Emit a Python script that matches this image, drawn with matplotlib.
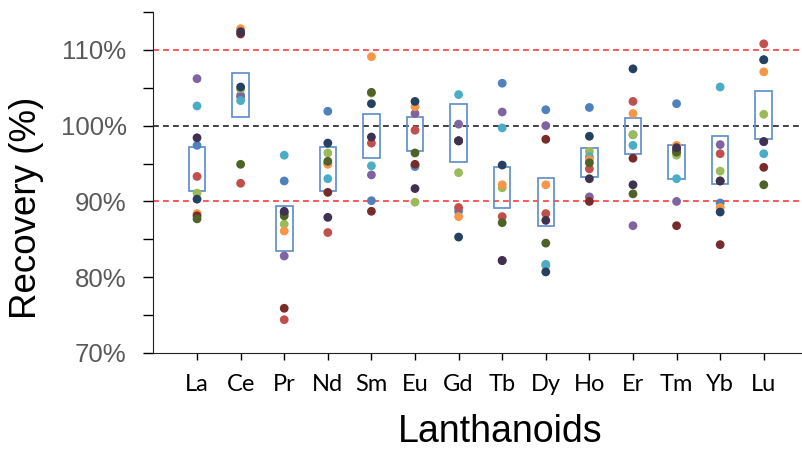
import matplotlib
matplotlib.use("Agg")
import matplotlib.pyplot as plt
from matplotlib.patches import Rectangle
from matplotlib.ticker import MultipleLocator, FuncFormatter

plt.rcParams["font.family"] = ["Liberation Sans", "DejaVu Sans"]

categories = ["La", "Ce", "Pr", "Nd", "Sm", "Eu", "Gd", "Tb", "Dy", "Ho", "Er", "Tm", "Yb", "Lu"]

s_blue       = [97.4, 104.0, 92.7, 101.9, 90.1, 94.6, 88.7, 105.6, 102.1, 102.4, 98.8, 102.9, 89.8, 108.7]
s_red        = [93.3, 92.4, 74.4, 85.9, 97.7, 99.4, 89.2, 88.0, 88.4, 94.3, 103.2, 96.5, 96.3, 110.8]
s_green      = [91.1, 104.8, 87.0, 96.4, 104.3, 89.9, 93.8, 91.8, 81.5, 96.6, 98.8, 96.1, 94.0, 101.5]
s_purple     = [106.2, 103.8, 82.8, 95.0, 93.5, 101.6, 100.2, 101.8, 100.0, 90.6, 86.8, 90.0, 97.5, 97.9]
s_cyan       = [102.6, 103.3, 96.1, 93.0, 94.7, 94.8, 104.1, 99.7, 81.7, 95.9, 97.4, 93.0, 105.1, 96.3]
s_orange     = [88.4, 112.8, 86.1, 94.9, 109.1, 102.5, 88.0, 92.2, 92.2, 95.5, 101.6, 97.4, 89.2, 107.1]
s_navy       = [90.3, 105.1, 88.5, 97.7, 102.9, 103.2, 85.3, 94.8, 80.7, 98.6, 107.5, 96.8, 88.6, 108.7]
s_darkred    = [88.1, 112.1, 75.9, 91.2, 88.7, 94.9, 98.0, 82.2, 98.2, 90.0, 95.7, 86.8, 84.3, 94.5]
s_darkolive  = [87.7, 94.9, 88.1, 95.3, 104.4, 96.4, 98.0, 87.2, 84.5, 95.1, 91.0, 96.5, 92.7, 92.2]
s_darkpurple = [98.4, 112.4, 88.7, 87.9, 98.5, 91.7, 98.0, 82.2, 87.5, 93.0, 92.2, 97.1, 92.7, 97.9]

box_low  = [91.4, 101.1, 83.5, 91.4, 95.7, 96.6, 95.2, 89.1, 86.8, 93.2, 96.3, 92.9, 92.3, 98.2]
box_high = [97.2, 107.0, 89.4, 97.2, 101.5, 101.2, 102.8, 94.5, 93.1, 97.1, 101.0, 97.5, 98.6, 104.6]

series = [
    (s_blue, "#4F81BD"), (s_red, "#C0504D"), (s_green, "#9BBB59"),
    (s_purple, "#8064A2"), (s_cyan, "#4BACC6"), (s_orange, "#F79646"),
    (s_navy, "#254061"), (s_darkred, "#772C2A"), (s_darkolive, "#4F6228"),
    (s_darkpurple, "#3F3151"),
]

fig = plt.figure(figsize=(8.03, 4.51), dpi=100)
ax = fig.add_axes([153/803, 1 - 353/451, 1 - 153/803, (353 - 12)/451])

x = list(range(len(categories)))

ax.axhline(110, color="#FF3B3B", lw=1.2, ls=(0, (3.5, 2.5)), zorder=1)
ax.axhline(90, color="#FF3B3B", lw=1.2, ls=(0, (3.5, 2.5)), zorder=1)
ax.axhline(100, color="#222222", lw=1.2, ls=(0, (3.5, 2.5)), zorder=1)

bw = 0.38
for xi, lo, hi in zip(x, box_low, box_high):
    ax.add_patch(Rectangle((xi - bw/2, lo), bw, hi - lo, fill=False,
                           edgecolor="#5B8BC9", lw=1.2, zorder=2))

for vals, col in series:
    ax.scatter(x, vals, s=40, color=col, edgecolors="none", zorder=3)

ax.set_xlim(-1.01, 13.9)
ax.set_ylim(70, 115)
ax.set_xticks(x)
ax.set_xticklabels(categories, fontfamily="Lato", fontsize=17, color="black")
ax.yaxis.set_major_locator(MultipleLocator(10))
ax.yaxis.set_minor_locator(MultipleLocator(5))
ax.yaxis.set_major_formatter(FuncFormatter(lambda v, p: f"{int(round(v))}%"))
ax.tick_params(axis="y", which="both", direction="out", length=7, width=1, pad=12,
               labelsize=18.5, labelcolor="#595959")
ax.tick_params(axis="x", direction="out", length=5, width=1, pad=10)

for sp in ["top", "right"]:
    ax.spines[sp].set_visible(False)
ax.spines["left"].set_color("#222222")
ax.spines["bottom"].set_color("#222222")

fig.text(27/803, 1 - 208/451, "Recovery (%)", rotation=90, ha="center", va="center",
         fontsize=26.5, color="black")
fig.text(500/803, 1.0/451, "Lanthanoids", ha="center", va="bottom",
         fontsize=27, color="black")

fig.savefig("out.png", dpi=100)
